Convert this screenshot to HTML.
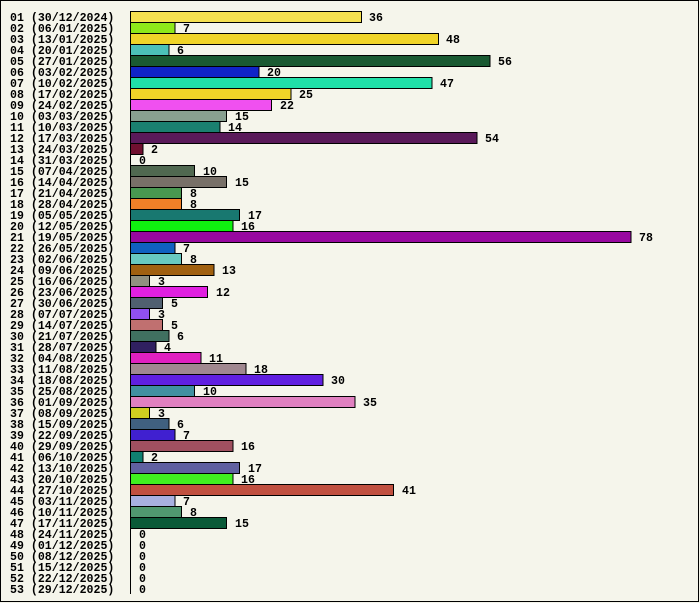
<!DOCTYPE html>
<html><head><meta charset="utf-8"><style>
html,body{margin:0;padding:0;background:#f5f5eb;}
svg{display:block}
text{font-family:"Liberation Mono",monospace;font-weight:bold;font-size:11.6px;fill:#000}
</style></head><body>
<svg width="700" height="603" xmlns="http://www.w3.org/2000/svg">
<rect x="0.5" y="0.5" width="698" height="601" fill="#f5f5eb" stroke="#000" stroke-width="1"/>
<line x1="130.5" y1="11" x2="130.5" y2="594" stroke="#000"/>
<g stroke="#000" stroke-width="1">
<rect x="130.5" y="11.5" width="231" height="11" fill="#f5e050"/>
<rect x="130.5" y="22.5" width="44.5" height="11" fill="#8ee81a"/>
<rect x="130.5" y="33.5" width="308" height="11" fill="#f0d428"/>
<rect x="130.5" y="44.5" width="38.5" height="11" fill="#4cc0b8"/>
<rect x="130.5" y="55.5" width="359.5" height="11" fill="#1a5a32"/>
<rect x="130.5" y="66.5" width="128.5" height="11" fill="#1024c8"/>
<rect x="130.5" y="77.5" width="301.5" height="11" fill="#20e0a8"/>
<rect x="130.5" y="88.5" width="160.5" height="11" fill="#f0d428"/>
<rect x="130.5" y="99.5" width="141" height="11" fill="#f050f0"/>
<rect x="130.5" y="110.5" width="96" height="11" fill="#88a090"/>
<rect x="130.5" y="121.5" width="89.5" height="11" fill="#1a8070"/>
<rect x="130.5" y="132.5" width="346.5" height="11" fill="#5a1a5a"/>
<rect x="130.5" y="143.5" width="12.5" height="11" fill="#701030"/>
<rect x="130.5" y="165.5" width="64" height="11" fill="#506850"/>
<rect x="130.5" y="176.5" width="96" height="11" fill="#787068"/>
<rect x="130.5" y="187.5" width="51" height="11" fill="#489850"/>
<rect x="130.5" y="198.5" width="51" height="11" fill="#f08028"/>
<rect x="130.5" y="209.5" width="109" height="11" fill="#187870"/>
<rect x="130.5" y="220.5" width="102.5" height="11" fill="#10f010"/>
<rect x="130.5" y="231.5" width="500.5" height="11" fill="#9808a0"/>
<rect x="130.5" y="242.5" width="44.5" height="11" fill="#1060c0"/>
<rect x="130.5" y="253.5" width="51" height="11" fill="#68c8c0"/>
<rect x="130.5" y="264.5" width="83.5" height="11" fill="#a06010"/>
<rect x="130.5" y="275.5" width="19" height="11" fill="#909080"/>
<rect x="130.5" y="286.5" width="77" height="11" fill="#e020e0"/>
<rect x="130.5" y="297.5" width="32" height="11" fill="#506070"/>
<rect x="130.5" y="308.5" width="19" height="11" fill="#9050f0"/>
<rect x="130.5" y="319.5" width="32" height="11" fill="#c07070"/>
<rect x="130.5" y="330.5" width="38.5" height="11" fill="#407060"/>
<rect x="130.5" y="341.5" width="25.5" height="11" fill="#302060"/>
<rect x="130.5" y="352.5" width="70.5" height="11" fill="#e020c0"/>
<rect x="130.5" y="363.5" width="115.5" height="11" fill="#a08890"/>
<rect x="130.5" y="374.5" width="192.5" height="11" fill="#6020e0"/>
<rect x="130.5" y="385.5" width="64" height="11" fill="#4090a0"/>
<rect x="130.5" y="396.5" width="224.5" height="11" fill="#e080c0"/>
<rect x="130.5" y="407.5" width="19" height="11" fill="#d0d020"/>
<rect x="130.5" y="418.5" width="38.5" height="11" fill="#406080"/>
<rect x="130.5" y="429.5" width="44.5" height="11" fill="#4020d0"/>
<rect x="130.5" y="440.5" width="102.5" height="11" fill="#a05060"/>
<rect x="130.5" y="451.5" width="12.5" height="11" fill="#108070"/>
<rect x="130.5" y="462.5" width="109" height="11" fill="#6060a0"/>
<rect x="130.5" y="473.5" width="102.5" height="11" fill="#40f020"/>
<rect x="130.5" y="484.5" width="263" height="11" fill="#c05040"/>
<rect x="130.5" y="495.5" width="44.5" height="11" fill="#a8b0e0"/>
<rect x="130.5" y="506.5" width="51" height="11" fill="#509870"/>
<rect x="130.5" y="517.5" width="96" height="11" fill="#0a5a38"/>
</g>
<g>
<text x="10" y="21">01 (30/12/2024)</text><text x="369" y="21">36</text>
<text x="10" y="32">02 (06/01/2025)</text><text x="183" y="32">7</text>
<text x="10" y="43">03 (13/01/2025)</text><text x="446" y="43">48</text>
<text x="10" y="54">04 (20/01/2025)</text><text x="177" y="54">6</text>
<text x="10" y="65">05 (27/01/2025)</text><text x="498" y="65">56</text>
<text x="10" y="76">06 (03/02/2025)</text><text x="267" y="76">20</text>
<text x="10" y="87">07 (10/02/2025)</text><text x="440" y="87">47</text>
<text x="10" y="98">08 (17/02/2025)</text><text x="299" y="98">25</text>
<text x="10" y="109">09 (24/02/2025)</text><text x="280" y="109">22</text>
<text x="10" y="120">10 (03/03/2025)</text><text x="235" y="120">15</text>
<text x="10" y="131">11 (10/03/2025)</text><text x="228" y="131">14</text>
<text x="10" y="142">12 (17/03/2025)</text><text x="485" y="142">54</text>
<text x="10" y="153">13 (24/03/2025)</text><text x="151" y="153">2</text>
<text x="10" y="164">14 (31/03/2025)</text><text x="139" y="164">0</text>
<text x="10" y="175">15 (07/04/2025)</text><text x="203" y="175">10</text>
<text x="10" y="186">16 (14/04/2025)</text><text x="235" y="186">15</text>
<text x="10" y="197">17 (21/04/2025)</text><text x="190" y="197">8</text>
<text x="10" y="208">18 (28/04/2025)</text><text x="190" y="208">8</text>
<text x="10" y="219">19 (05/05/2025)</text><text x="248" y="219">17</text>
<text x="10" y="230">20 (12/05/2025)</text><text x="241" y="230">16</text>
<text x="10" y="241">21 (19/05/2025)</text><text x="639" y="241">78</text>
<text x="10" y="252">22 (26/05/2025)</text><text x="183" y="252">7</text>
<text x="10" y="263">23 (02/06/2025)</text><text x="190" y="263">8</text>
<text x="10" y="274">24 (09/06/2025)</text><text x="222" y="274">13</text>
<text x="10" y="285">25 (16/06/2025)</text><text x="158" y="285">3</text>
<text x="10" y="296">26 (23/06/2025)</text><text x="216" y="296">12</text>
<text x="10" y="307">27 (30/06/2025)</text><text x="171" y="307">5</text>
<text x="10" y="318">28 (07/07/2025)</text><text x="158" y="318">3</text>
<text x="10" y="329">29 (14/07/2025)</text><text x="171" y="329">5</text>
<text x="10" y="340">30 (21/07/2025)</text><text x="177" y="340">6</text>
<text x="10" y="351">31 (28/07/2025)</text><text x="164" y="351">4</text>
<text x="10" y="362">32 (04/08/2025)</text><text x="209" y="362">11</text>
<text x="10" y="373">33 (11/08/2025)</text><text x="254" y="373">18</text>
<text x="10" y="384">34 (18/08/2025)</text><text x="331" y="384">30</text>
<text x="10" y="395">35 (25/08/2025)</text><text x="203" y="395">10</text>
<text x="10" y="406">36 (01/09/2025)</text><text x="363" y="406">35</text>
<text x="10" y="417">37 (08/09/2025)</text><text x="158" y="417">3</text>
<text x="10" y="428">38 (15/09/2025)</text><text x="177" y="428">6</text>
<text x="10" y="439">39 (22/09/2025)</text><text x="183" y="439">7</text>
<text x="10" y="450">40 (29/09/2025)</text><text x="241" y="450">16</text>
<text x="10" y="461">41 (06/10/2025)</text><text x="151" y="461">2</text>
<text x="10" y="472">42 (13/10/2025)</text><text x="248" y="472">17</text>
<text x="10" y="483">43 (20/10/2025)</text><text x="241" y="483">16</text>
<text x="10" y="494">44 (27/10/2025)</text><text x="402" y="494">41</text>
<text x="10" y="505">45 (03/11/2025)</text><text x="183" y="505">7</text>
<text x="10" y="516">46 (10/11/2025)</text><text x="190" y="516">8</text>
<text x="10" y="527">47 (17/11/2025)</text><text x="235" y="527">15</text>
<text x="10" y="538">48 (24/11/2025)</text><text x="139" y="538">0</text>
<text x="10" y="549">49 (01/12/2025)</text><text x="139" y="549">0</text>
<text x="10" y="560">50 (08/12/2025)</text><text x="139" y="560">0</text>
<text x="10" y="571">51 (15/12/2025)</text><text x="139" y="571">0</text>
<text x="10" y="582">52 (22/12/2025)</text><text x="139" y="582">0</text>
<text x="10" y="593">53 (29/12/2025)</text><text x="139" y="593">0</text>
</g>
</svg>
</body></html>
